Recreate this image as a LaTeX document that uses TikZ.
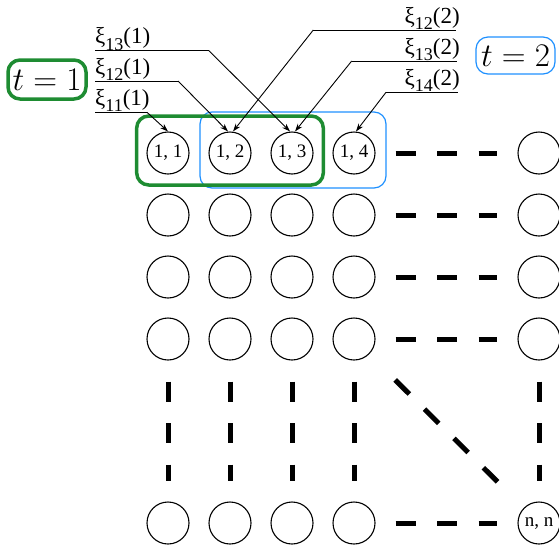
\RequirePackage{fix-cm}
\documentclass[tikz,border=0pt]{standalone}
\usepackage{fontspec}
\setmainfont{Liberation Serif}
\usetikzlibrary{arrows.meta}
\definecolor{gboxc}{RGB}{30,140,50}
\definecolor{bboxc}{RGB}{30,144,255}
\newcommand{\xilab}[2]{ξ\raisebox{-0.28em}{\fontsize{18}{18}\selectfont #1}(#2)}
\tikzset{
  cell/.style={circle,draw,line width=1.1pt,minimum size=42pt,inner sep=0pt},
  celltext/.style={font=\fontsize{19}{19}\selectfont,inner sep=0pt},
  dashpat/.style={line width=5pt,dash pattern=on 20pt off 21.5pt},
  lbl/.style={font=\fontsize{23}{23}\selectfont,inner sep=0pt},
  uline/.style={line width=0.9pt},
  arr/.style={line width=0.9pt,-{Stealth[length=8pt,width=5.5pt]}},
  gbox/.style={draw=gboxc,line width=3.5pt,rounded corners=12pt},
  bbox/.style={draw=bboxc,line width=1.2pt,rounded corners=12pt},
  tlabel/.style={minimum height=38pt,inner sep=0pt,font=\fontsize{33}{33}\selectfont},
}
\begin{document}
\begin{tikzpicture}[x=1pt,y=-1pt]
\useasboundingbox (0,0) rectangle (559,552);
% grid cells
\foreach \r/\y in {1/153,2/215,3/277,4/339,n/523}{
  \foreach \c/\x in {1/168,2/230,3/292,4/354,n/539}{
    \node[cell] (c\r\c) at (\x,\y) {};
  }
}
\node[celltext] at (c11) {1, 1};
\node[celltext] at (c12) {1, 2};
\node[celltext] at (c13) {1, 3};
\node[celltext] at (c14) {1, 4};
\node[celltext] at (cnn) {n, n};
% dashed connectors
\foreach \r in {1,2,3,4,n}{
  \draw[dashpat,shorten <=20pt,shorten >=20pt] (c\r4.east) -- (c\r n.west);
}
\foreach \c in {1,2,3,4,n}{
  \draw[dashpat,shorten <=21pt,shorten >=20pt] (c4\c.south) -- (cn\c.north);
}
\draw[dashpat,shorten <=58pt,shorten >=58pt] (c44.center) -- (cnn.center);
% boxes
\draw[bbox] (200,112) rectangle (386,188);
\draw[gbox] (136.7,116) rectangle (323.3,185);
\node[gbox,tlabel,minimum width=78pt,minimum height=39pt] (t1) at (47,79.5) {$t=1$};
\node[bbox,tlabel,minimum width=79pt,minimum height=37pt] (t2) at (515.5,55.5) {$t=2$};
% left labels
\node[lbl,anchor=base west] (x131) at (95,43.7) {\xilab{13}{1}};
\node[lbl,anchor=base west] (x121) at (95,74) {\xilab{12}{1}};
\node[lbl,anchor=base west] (x111) at (95,105.3) {\xilab{11}{1}};
\coordinate (a1s) at (95,50.7);  \coordinate (a1e) at (209,50.7);
\coordinate (b1s) at (95,81);    \coordinate (b1e) at (178,81);
\coordinate (d1s) at (95,112.3); \coordinate (d1e) at (147,112.3);
\draw[uline] (a1s) -- (a1e);
\draw[uline] (b1s) -- (b1e);
\draw[uline] (d1s) -- (d1e);
\draw[arr] (a1e) -- ([xshift=-2pt]c13.north);
\draw[arr] (b1e) -- ([xshift=-2pt]c12.north);
\draw[arr] (d1e) -- (c11.north);
% right labels
\node[lbl,anchor=base east] (x122) at (460,23) {\xilab{12}{2}};
\node[lbl,anchor=base east] (x132) at (460,54) {\xilab{13}{2}};
\node[lbl,anchor=base east] (x142) at (460,85.3) {\xilab{14}{2}};
\coordinate (a2s) at (313.3,30);  \coordinate (a2e) at (456,30);
\coordinate (b2s) at (351.7,61);  \coordinate (b2e) at (456.7,61);
\coordinate (d2s) at (386,92.3);  \coordinate (d2e) at (457.7,92.3);
\draw[uline] (a2s) -- (a2e);
\draw[uline] (b2s) -- (b2e);
\draw[uline] (d2s) -- (d2e);
\draw[arr] (a2s) -- ([xshift=3pt]c12.north);
\draw[arr] (b2s) -- ([xshift=3pt]c13.north);
\draw[arr] (d2s) -- ([xshift=2pt]c14.north);
\end{tikzpicture}
\end{document}
